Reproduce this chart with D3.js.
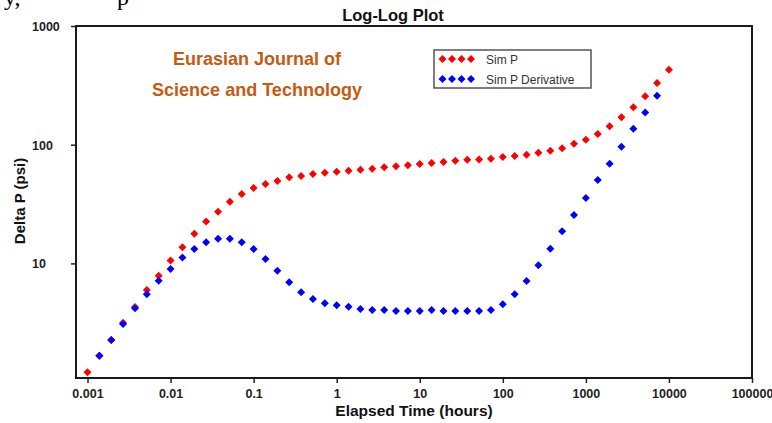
<!DOCTYPE html>
<html>
<head>
<meta charset="utf-8">
<script src="https://cdn.jsdelivr.net/npm/d3@7"></script>
<style>
  html, body { margin: 0; padding: 0; background: #fff; }
  svg { display: block; }
  text { font-family: "Liberation Sans", Arial, sans-serif; }
</style>
</head>
<body>
<svg id="chart" width="772" height="423"></svg>
<script>
// ---- data ----
const times = [0.001,0.00139,0.00193,0.00268,0.00373,0.00518,0.0072,
  0.01,0.0139,0.0193,0.0268,0.0373,0.0518,0.072,
  0.1,0.139,0.193,0.268,0.373,0.518,0.72,
  1,1.39,1.93,2.68,3.73,5.18,7.2,
  10,13.9,19.3,26.8,37.3,51.8,72,
  100,139,193,268,373,518,720,
  1000,1390,1930,2680,3730,5180,7200,
  10000];
const simP = [1.21,1.67,2.26,3.17,4.29,5.97,7.88,10.6,13.7,17.8,
  22.5,27.3,33.1,38.4,43.2,46.7,49.5,53.1,54.5,56.6,
  58.1,59.2,60.4,61.5,62.8,64.5,65.8,67.0,68.8,70.1,
  71.5,73.3,74.6,75.2,76.2,78.8,80.3,82.4,85.6,89.0,
  93.3,102,110,123,143,170,207,256,331,428];
const simPDeriv = [null,1.67,2.26,3.09,4.19,5.49,7.15,8.97,11.2,13.2,
  15.1,16.1,16.1,15.1,13.2,10.9,8.68,6.93,5.71,5.01,
  4.61,4.44,4.32,4.13,4.05,4.05,3.97,3.97,3.97,4.05,
  3.97,3.97,3.97,3.97,4.05,4.52,5.49,7.11,9.64,13.3,
  18.7,25.6,35.6,50.4,69.2,96.2,136,187,259,null];
const xTicks = [0.001,0.01,0.1,1,10,100,1000,10000,100000];
const xTickLabels = ["0.001","0.01","0.1","1","10","100","1000","10000","100000"];
const yTicks = [10,100,1000];
const yTickLabels = ["10","100","1000"];
const xDomain = [0.000727, 100000];
const yDomain = [1.083, 1000];
const seriesNames = ["Sim P","Sim P Derivative"];
const seriesColors = ["#ff0000","#0000ff"];

// ---- layout ----
const L = 76, R = 752, T = 26, B = 378;
const svg = d3.select("#chart");
const x = d3.scaleLog().domain(xDomain).range([L, R]);
const y = d3.scaleLog().domain(yDomain).range([B, T]);

// fragment of surrounding document text (cropped at top, as in the source page)
svg.append("text").attr("x", 4).attr("y", 5)
  .style("font-family", "'Liberation Serif', 'Times New Roman', serif")
  .style("font-size", "24px").attr("fill", "#000").text("y,");
svg.append("text").attr("x", 117).attr("y", 5)
  .style("font-family", "'Liberation Serif', 'Times New Roman', serif")
  .style("font-size", "24px").attr("fill", "#000").text("p");

// title
svg.append("text").attr("x", 393).attr("y", 21).attr("text-anchor", "middle")
  .style("font-size", "16.5px").style("font-weight", "bold").attr("fill", "#111")
  .text("Log-Log Plot");

// watermark
const wm = svg.append("g").attr("fill", "#c55a11")
  .style("font-family", "Lato, 'Open Sans', sans-serif").style("font-weight", "bold").style("font-size", "19px");
wm.append("text").attr("x", 173).attr("y", 65).attr("textLength", 168).attr("lengthAdjust", "spacingAndGlyphs").text("Eurasian Journal of");
wm.append("text").attr("x", 152).attr("y", 96).attr("textLength", 210).attr("lengthAdjust", "spacingAndGlyphs").text("Science and Technology");

// axes
const xAxis = d3.axisBottom(x).tickValues(xTicks).tickSize(5).tickFormat((d, i) => xTickLabels[i]);
const gx = svg.append("g").attr("transform", `translate(0,${B})`).call(xAxis);
gx.select(".domain").remove();
gx.selectAll(".tick line").attr("stroke", "#222").attr("stroke-width", 1.5);
gx.selectAll(".tick text").attr("dy", 0).attr("y", 20)
  .style("font-size", "12.5px").style("font-weight", "bold").attr("fill", "#222")
  .style("font-family", "'Liberation Sans', Arial, sans-serif");

const yAxis = d3.axisLeft(y).tickValues(yTicks).tickSize(5).tickFormat((d, i) => yTickLabels[i]);
const gy = svg.append("g").attr("transform", `translate(${L},0)`).call(yAxis);
gy.select(".domain").remove();
gy.selectAll(".tick line").attr("stroke", "#222").attr("stroke-width", 1.5);
gy.selectAll(".tick text").attr("text-anchor", "start").attr("x", 32 - L).attr("dy", "0.35em")
  .style("font-size", "12.5px").style("font-weight", "bold").attr("fill", "#222")
  .style("font-family", "'Liberation Sans', Arial, sans-serif");

// frame
svg.append("rect").attr("x", L).attr("y", T).attr("width", R - L).attr("height", B - T)
  .attr("fill", "none").attr("stroke", "#1a1a1a").attr("stroke-width", 2);

// axis titles
svg.append("text").attr("x", 414).attr("y", 416).attr("text-anchor", "middle")
  .style("font-size", "15.5px").style("font-weight", "bold").attr("fill", "#111")
  .text("Elapsed Time (hours)");
svg.append("text").attr("transform", "translate(25,201) rotate(-90)").attr("text-anchor", "middle")
  .style("font-size", "15px").style("font-weight", "bold").attr("fill", "#111")
  .text("Delta P (psi)");

// markers
const sym = d3.symbol().type(d3.symbolSquare).size(32);
const series = [simP, simPDeriv];
series.forEach((vals, si) => {
  const pts = times.map((t, i) => ({ t, v: vals[i] })).filter(d => d.v != null);
  svg.append("g").selectAll("path").data(pts).join("path")
    .attr("d", sym)
    .attr("transform", d => `translate(${x(d.t)},${y(d.v)}) rotate(45)`)
    .attr("fill", seriesColors[si]);
});

// legend
const lg = svg.append("g");
lg.append("rect").attr("x", 434).attr("y", 50).attr("width", 157).attr("height", 38)
  .attr("fill", "#fff").attr("stroke", "#555").attr("stroke-width", 1.5);
seriesNames.forEach((name, si) => {
  const ry = 59 + si * 20;
  [442.5, 452, 461.5, 471].forEach(mx => {
    lg.append("path").attr("d", sym).attr("transform", `translate(${mx},${ry}) rotate(45)`)
      .attr("fill", seriesColors[si]);
  });
  lg.append("text").attr("x", 486).attr("y", ry + 4.5)
    .style("font-size", "12px").attr("fill", "#333").text(name);
});
</script>
</body>
</html>
